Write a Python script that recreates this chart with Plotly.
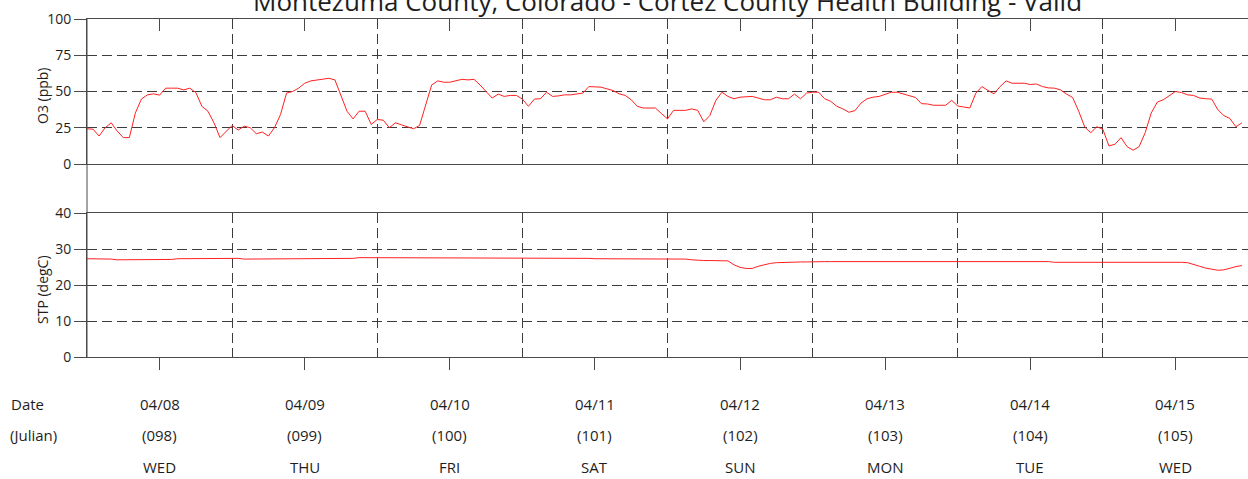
import pandas as pd
import plotly.graph_objects as go

TITLE = "Montezuma County, Colorado - Cortez County Health Building - Valid"
START = "2015-04-08 00:00"
END = "2015-04-16 00:00"

day_dates = ["04/08", "04/09", "04/10", "04/11", "04/12", "04/13", "04/14", "04/15"]
day_julian = ["(098)", "(099)", "(100)", "(101)", "(102)", "(103)", "(104)", "(105)"]
day_names = ["WED", "THU", "FRI", "SAT", "SUN", "MON", "TUE", "WED"]
day_noon = ["2015-04-08 12:00", "2015-04-09 12:00", "2015-04-10 12:00", "2015-04-11 12:00",
            "2015-04-12 12:00", "2015-04-13 12:00", "2015-04-14 12:00", "2015-04-15 12:00"]

# Hourly O3 (ppb)
o3_values = [
    24.3, 24.0, 19.3, 25.0, 28.4, 22.7, 18.2, 18.2, 35.2, 44.8, 47.7, 48.4,
    47.5, 52.3, 52.3, 52.3, 51.1, 52.3, 49.3, 39.8, 36.4, 28.4, 18.2, 22.7,
    26.6, 23.4, 26.1, 25.0, 20.9, 22.0, 19.3, 25.0, 34.1, 48.9, 50.0, 52.3,
    55.7, 57.3, 58.0, 58.9, 59.1, 58.0, 47.7, 36.4, 31.1, 36.4, 36.4, 27.3,
    30.7, 30.2, 25.0, 28.4, 27.0, 25.5, 24.3, 26.6, 39.8, 54.5, 57.3, 56.4,
    56.4, 57.3, 58.4, 58.0, 58.4, 54.5, 50.0, 45.5, 48.2, 46.6, 47.3, 47.3,
    44.8, 39.8, 44.8, 45.0, 49.5, 46.6, 47.0, 47.7, 47.7, 48.4, 48.9, 53.4,
    53.4, 53.0, 51.8, 50.7, 48.4, 47.3, 44.3, 39.8, 38.6, 38.6, 38.6, 34.8,
    31.1, 37.0, 37.0, 37.0, 38.0, 37.0, 29.1, 33.4, 43.9, 49.5, 46.6, 45.0,
    46.1, 46.6, 46.6, 45.5, 44.3, 44.3, 46.1, 45.0, 45.0, 48.2, 45.0, 48.9,
    49.5, 49.5, 45.0, 43.2, 39.8, 38.0, 35.7, 36.8, 42.0, 45.0, 46.1, 46.6,
    48.2, 49.5, 49.5, 48.4, 47.0, 45.9, 41.6, 41.4, 40.5, 40.5, 40.5, 43.9,
    40.0, 39.3, 38.6, 48.9, 53.4, 50.7, 48.4, 53.4, 57.3, 55.7, 55.7, 55.7,
    54.8, 55.2, 53.4, 52.5, 52.3, 51.1, 48.2, 45.9, 36.4, 25.5, 21.6, 25.7,
    23.9, 12.5, 13.6, 18.2, 12.0, 9.5, 12.0, 21.6, 35.2, 42.7, 44.3, 47.3,
    50.0, 49.3, 47.7, 47.3, 45.5, 45.0, 44.8, 37.5, 33.4, 31.4, 25.7, 28.4,
]

# Hourly STP (degC)
stp_values = [
    27.3, 27.3, 27.3, 27.3, 27.2, 27.0, 27.0, 27.0, 27.0, 27.0, 27.0, 27.0,
    27.1, 27.1, 27.1, 27.3, 27.3, 27.3, 27.3, 27.5, 27.5, 27.5, 27.5, 27.5,
    27.5, 27.4, 27.2, 27.2, 27.2, 27.2, 27.2, 27.2, 27.2, 27.2, 27.2, 27.2,
    27.2, 27.3, 27.3, 27.3, 27.3, 27.4, 27.4, 27.4, 27.4, 27.6, 27.6, 27.6,
    27.6, 27.6, 27.6, 27.6, 27.6, 27.6, 27.6, 27.6, 27.5, 27.5, 27.5, 27.5,
    27.5, 27.5, 27.5, 27.5, 27.5, 27.5, 27.5, 27.5, 27.5, 27.5, 27.5, 27.5,
    27.4, 27.4, 27.4, 27.4, 27.4, 27.4, 27.4, 27.4, 27.4, 27.4, 27.4, 27.4,
    27.3, 27.3, 27.3, 27.3, 27.3, 27.3, 27.3, 27.3, 27.3, 27.3, 27.3, 27.3,
    27.2, 27.2, 27.2, 27.2, 27.0, 26.8, 26.8, 26.8, 26.8, 26.8, 26.7, 25.6,
    24.9, 24.6, 24.6, 25.2, 25.7, 26.0, 26.2, 26.3, 26.4, 26.4, 26.4, 26.4,
    26.5, 26.5, 26.5, 26.5, 26.5, 26.5, 26.5, 26.5, 26.5, 26.5, 26.7, 26.7,
    26.7, 26.7, 26.7, 26.7, 26.7, 26.7, 26.7, 26.7, 26.7, 26.7, 26.7, 26.7,
    26.7, 26.7, 26.7, 26.7, 26.7, 26.7, 26.7, 26.7, 26.7, 26.7, 26.5, 26.5,
    26.5, 26.5, 26.5, 26.5, 26.3, 26.3, 26.3, 26.5, 26.5, 26.5, 26.5, 26.5,
    26.4, 26.3, 26.3, 26.3, 26.3, 26.3, 26.3, 26.3, 26.3, 26.3, 26.3, 26.3,
    26.3, 26.3, 26.2, 25.8, 25.2, 24.7, 24.3, 24.1, 24.2, 24.7, 25.1, 25.4,
]

o3_ticks = [0, 25, 50, 75, 100]
stp_ticks = [0, 10, 20, 30, 40]

times = pd.date_range(START, periods=len(o3_values), freq="h")

W, H = 1248, 479
ML, MR, MT, MB = 87, 0, 19, 122
PW = W - ML - MR
PH = H - MT - MB


def py(px):
    return (H - MB - px) / PH


def pxx(px):
    return (px - ML) / PW


AX = "#4a4a4a"
GRID = "#3c3c3c"
TXT = "#1e1e1e"
FONT = "Open Sans"
DASH = "10px,5px"

fig = go.Figure()
fig.add_trace(go.Scatter(x=times, y=o3_values, mode="lines", xaxis="x", yaxis="y",
                         line=dict(color="#ff2020", width=1), showlegend=False))
fig.add_trace(go.Scatter(x=times, y=stp_values, mode="lines", xaxis="x2", yaxis="y2",
                         line=dict(color="#ff2020", width=1), showlegend=False))

xcommon = dict(
    type="date", range=[START, END], tick0="2015-04-08 12:00", dtick=86400000,
    showticklabels=False, showgrid=False, showline=True, linecolor=AX, linewidth=1,
    mirror=True, ticklen=12, tickcolor=AX, zeroline=False,
    minor=dict(tick0="2015-04-08 00:00", dtick=86400000, showgrid=True,
               gridcolor=GRID, griddash=DASH, gridwidth=1, ticks=""),
)
ycommon = dict(
    showgrid=True, gridcolor=GRID, griddash=DASH, gridwidth=1, showline=True,
    linecolor=AX, linewidth=1, mirror=False, ticks="outside", ticklen=12,
    tickcolor=AX, zeroline=False, tickfont=dict(family=FONT, size=14, color=TXT),
)

fig.update_layout(
    width=W, height=H,
    margin=dict(l=ML, r=MR, t=MT, b=MB, pad=0),
    paper_bgcolor="white", plot_bgcolor="white",
    font=dict(family=FONT, size=14, color=TXT),
    xaxis=dict(domain=[0, 1], anchor="y", side="top", ticks="inside", **xcommon),
    xaxis2=dict(domain=[0, 1], anchor="y2", side="bottom", ticks="outside", **xcommon),
    yaxis=dict(domain=[py(164), 1], range=[0, 100], tickvals=o3_ticks, anchor="x", **ycommon),
    yaxis2=dict(domain=[0, py(213)], range=[0, 40], tickvals=stp_ticks, anchor="x2", **ycommon),
)

fig.add_shape(type="line", xref="paper", yref="paper", x0=0, x1=0, y0=0, y1=1,
              line=dict(color=AX, width=1))

LBL = 15
ann = []
ann.append(dict(text=TITLE, xref="paper", yref="paper", x=0.5, y=py(0.5), xanchor="center",
                yanchor="middle", showarrow=False, font=dict(family=FONT, size=26, color=TXT)))
ann.append(dict(text="O3 (ppb)", xref="paper", yref="paper", x=pxx(42), y=py(96), textangle=-90,
                xanchor="center", yanchor="middle", showarrow=False, font=dict(size=14)))
ann.append(dict(text="STP (degC)", xref="paper", yref="paper", x=pxx(42), y=py(290), textangle=-90,
                xanchor="center", yanchor="middle", showarrow=False, font=dict(size=14)))
ann.append(dict(text="Date", xref="paper", yref="paper", x=pxx(9), y=py(403.5),
                xanchor="left", yanchor="middle", showarrow=False, font=dict(size=LBL)))
ann.append(dict(text="(Julian)", xref="paper", yref="paper", x=pxx(8), y=py(435),
                xanchor="left", yanchor="middle", showarrow=False, font=dict(size=LBL)))
for xd, d, j, n in zip(day_noon, day_dates, day_julian, day_names):
    ann.append(dict(text=d, xref="x2", yref="paper", x=xd, y=py(403.5), xanchor="center",
                    yanchor="middle", showarrow=False, font=dict(size=LBL)))
    ann.append(dict(text=j, xref="x2", yref="paper", x=xd, y=py(435), xanchor="center",
                    yanchor="middle", showarrow=False, font=dict(size=LBL)))
    ann.append(dict(text=n, xref="x2", yref="paper", x=xd, y=py(466.5), xanchor="center",
                    yanchor="middle", showarrow=False, font=dict(size=LBL)))
fig.update_layout(annotations=ann)

fig.write_html("out.html", config={"displayModeBar": False},
               post_script="document.body.style.margin='0px';document.body.style.overflow='hidden';")
